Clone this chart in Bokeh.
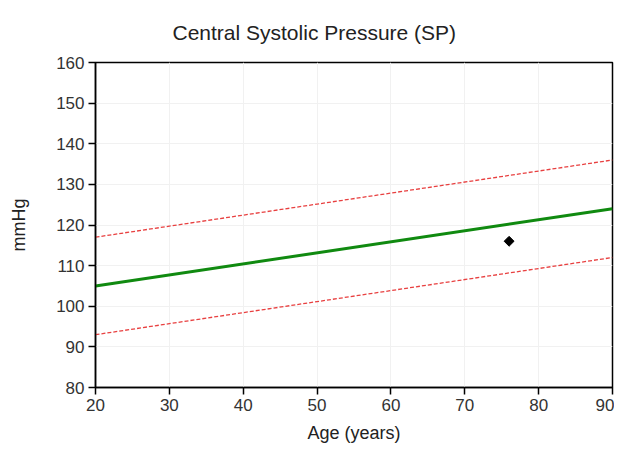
import math
from bokeh.plotting import figure
from bokeh.embed import file_html
from bokeh.resources import INLINE
from bokeh.models import Range1d, FixedTicker

ages = [20, 90]
mean_sp = [105, 124]
upper_sp = [117, 136]
lower_sp = [93, 112]
pt_age = [76]
pt_sp = [116]
x_ticks = [20, 30, 40, 50, 60, 70, 80, 90]
y_ticks = [80, 90, 100, 110, 120, 130, 140, 150, 160]

p = figure(width=614, height=445, output_backend="svg", toolbar_location=None,
           x_range=Range1d(20, 90), y_range=Range1d(80, 160),
           title="Central Systolic Pressure (SP)",
           min_border_left=95, min_border_right=2, min_border_top=62, min_border_bottom=51)
p.title.align = "left"
p.title.text_font = "Liberation Sans"
p.title.text_font_size = "21px"
p.title.text_font_style = "normal"
p.title.text_color = "#222222"
p.title.offset = 77
p.title.standoff = 37

p.line(ages, upper_sp, line_color="#e84040", line_width=1.3, line_dash="4 2")
p.line(ages, lower_sp, line_color="#e84040", line_width=1.3, line_dash="4 2")
p.line(ages, mean_sp, line_color="#108a10", line_width=3)
p.scatter(pt_age, pt_sp, marker="square", size=7, angle=math.pi / 4, color="black")

for ax in (p.xaxis, p.yaxis):
    ax.major_label_text_font = "Liberation Sans"
    ax.major_label_text_font_size = "17px"
    ax.major_label_text_color = "#333333"
    ax.axis_label_text_font = "Liberation Sans"
    ax.axis_label_text_font_size = "18px"
    ax.axis_label_text_font_style = "normal"
    ax.axis_label_text_color = "#222222"
    ax.axis_line_color = "black"
    ax.axis_line_width = 1.5
    ax.major_tick_line_color = "black"
    ax.major_tick_line_width = 1.5
    ax.major_tick_out = 7
    ax.major_tick_in = 0
    ax.minor_tick_line_color = None
p.xaxis.ticker = FixedTicker(ticks=x_ticks)
p.yaxis.ticker = FixedTicker(ticks=y_ticks)
p.xaxis.axis_label = "Age (years)"
p.yaxis.axis_label = "mmHg"
p.xaxis.axis_label_standoff = 9
p.yaxis.axis_label_standoff = 24
p.xaxis.major_label_standoff = 4
p.yaxis.major_label_standoff = 4
p.grid.grid_line_color = "#f1f1f1"
p.outline_line_color = "black"
p.outline_line_width = 1.5

open("out.html", "w").write(file_html(p, INLINE))
